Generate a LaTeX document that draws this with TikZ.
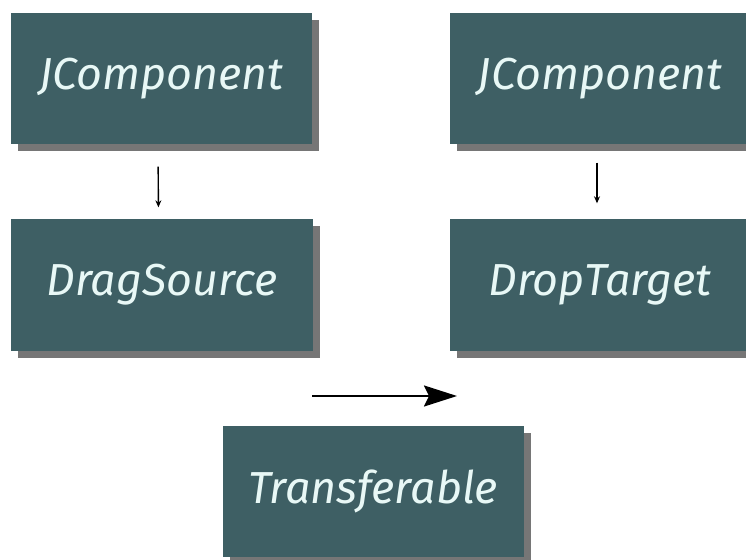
\documentclass[tikz,border=0pt]{standalone}
\usepackage{fontspec}
\setmainfont{Fira Sans}
\usetikzlibrary{arrows.meta,shadows}
\definecolor{boxfill}{RGB}{62,95,100}
\definecolor{boxtext}{RGB}{232,248,246}
\definecolor{shadowc}{RGB}{60,60,60}
\tikzset{
  classbox/.style={fill=boxfill, minimum width=301bp, minimum height=131bp, inner sep=0pt,
    text=boxtext, font=\fontsize{45}{50}\selectfont\itshape,
    drop shadow={shadow xshift=7bp, shadow yshift=-7bp, fill=shadowc, opacity=0.7}},
  smallarrow/.style={-{Stealth[length=7bp,width=6bp]}, line width=1.4bp, black},
  bigarrow/.style={-{Stealth[length=33bp,width=21bp,inset=5bp]}, line width=2.2bp, black}
}
\begin{document}
\begin{tikzpicture}[x=1bp,y=-1bp]
\useasboundingbox (0,0) rectangle (746,560);
\fill[white] (0,0) rectangle (746,560);
\node[classbox] (jc1) at (161.5,79) {JComponent};
\node[classbox] (jc2) at (600,79) {JComponent};
\node[classbox] (ds) at (162,285) {DragSource};
\node[classbox] (dt) at (600,285) {DropTarget};
\node[classbox] (tr) at (373,491.5) {Transferable};
\draw[smallarrow, shorten <=22bp, shorten >=12bp] ([xshift=-3.5bp]jc1.south) -- ([xshift=-3.5bp]ds.north);
\draw[smallarrow, shorten <=18bp, shorten >=16bp] ([xshift=-3bp]jc2.south) -- ([xshift=-3bp]dt.north);
\coordinate (hs) at (312,396);
\coordinate (he) at (457,396);
\draw[bigarrow] (hs) -- (he);
\end{tikzpicture}
\end{document}
